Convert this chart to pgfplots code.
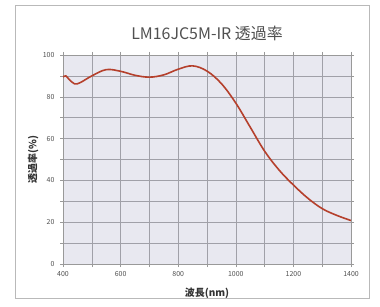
\documentclass[border=0pt]{standalone}
\usepackage{fontspec}
\setmainfont{Noto Sans CJK JP}
\usepackage{pgfplots}
\pgfplotsset{compat=1.18}
\definecolor{bgc}{HTML}{E8E8F0}
\definecolor{curve}{HTML}{B5402C}
\definecolor{txt}{HTML}{505050}
\definecolor{gridc}{HTML}{A0A0A8}
\begin{document}
\begin{tikzpicture}[x=1bp,y=1bp]
\path[use as bounding box, fill=white] (0,0) rectangle (380,307);
\draw[gray!55, line width=0.8bp] (15,9) rectangle (369,302);
\node[text=txt, font=\fontsize{16}{18}\selectfont] at (207,274) {LM16JC5M-IR 透過率};
\begin{axis}[
  at={(63bp,43bp)}, anchor=south west,
  scale only axis, width=288bp, height=209bp,
  xmin=400, xmax=1400, ymin=0, ymax=100,
  xtick={400,600,...,1400}, minor xtick={500,700,...,1300},
  ytick={0,20,...,100}, minor ytick={10,30,...,90},
  grid=both,
  major grid style={gridc, line width=0.5bp},
  minor grid style={gridc, line width=0.5bp},
  axis background/.style={fill=bgc},
  axis line style={gray!80, line width=0.5bp},
  tick style={gray!80, line width=0.5bp},
  tick align=outside, major tick length=3bp, minor tick length=3bp,
  ticklabel style={font=\fontsize{7}{8}\selectfont, text=txt},
  /pgf/number format/assume math mode=true,
  /pgf/number format/1000 sep={},
  yticklabel style={xshift=-2bp},
  xticklabel style={yshift=-1bp},
  xlabel={波長(nm)}, ylabel={透過率(\%)},
  label style={font=\fontsize{10}{12}\selectfont\bfseries, text=black!80},
  xlabel style={at={(axis description cs:0.5,-0.139)}, anchor=center},
  ylabel style={at={(axis description cs:-0.104,0.5)}, anchor=center},
]
\addplot[curve, line width=1.6bp, smooth, tension=0.6] coordinates {
(400,89.5) (410,90) (420,88.5) (440,86.2) (460,86.8) (500,90) (550,93)
(600,92.2) (650,90.3) (700,89.4) (750,90.5) (800,93.2) (850,94.8)
(900,92.3) (950,86.3) (1000,77) (1050,65.5) (1100,54) (1150,45)
(1200,37.8) (1250,31.5) (1300,26.5) (1350,23.3) (1400,20.8)
};
\end{axis}
\end{tikzpicture}
\end{document}
